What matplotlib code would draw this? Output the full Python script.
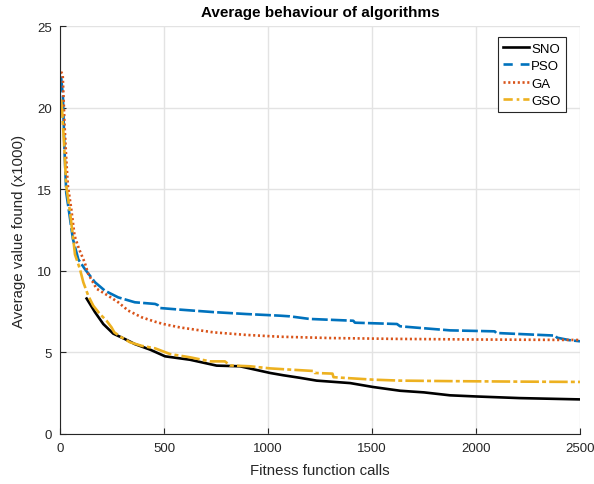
import matplotlib
matplotlib.use("Agg")
import matplotlib.pyplot as plt
from matplotlib.lines import Line2D

plt.rcParams['font.family'] = ['Liberation Sans', 'DejaVu Sans']

# Data
sno_x = [128, 168, 208, 256, 312, 360, 433, 505, 625, 753, 865, 1010, 1073, 1150,
         1234, 1395, 1505, 1635, 1750, 1875, 2000, 2210, 2500]
sno_y = [8.3, 7.47, 6.74, 6.15, 5.82, 5.51, 5.17, 4.76, 4.55, 4.19, 4.15, 3.74, 3.6, 3.45,
         3.27, 3.12, 2.88, 2.65, 2.55, 2.37, 2.3, 2.2, 2.12]

pso_x = [5, 14, 22, 30, 46, 62, 88, 120, 168, 216, 280, 360, 457, 470, 480, 577, 737, 897,
         1058, 1105, 1200, 1410, 1418, 1620, 1635, 1730, 1875, 2090, 2097, 2380, 2390, 2450, 2500]
pso_y = [21.9, 20.7, 17.3, 14.8, 13.4, 11.95, 10.7, 10.1, 9.3, 8.78, 8.37, 8.07, 7.97, 7.9, 7.72,
         7.62, 7.47, 7.35, 7.25, 7.21, 7.05, 6.94, 6.82, 6.74, 6.6, 6.5, 6.35, 6.29, 6.19, 6.03,
         5.9, 5.75, 5.68]

ga_x = [5, 13, 22, 30, 38, 54, 70, 87, 96, 119, 136, 176, 232, 280, 328, 393, 457, 497, 577,
        737, 897, 1058, 1300, 1600, 2000, 2500]
ga_y = [22.2, 22.0, 18.9, 16.85, 15.2, 13.8, 12.15, 11.5, 11.2, 10.5, 9.8, 8.9, 8.47, 8.07,
        7.56, 7.15, 6.88, 6.74, 6.53, 6.23, 6.07, 5.96, 5.88, 5.83, 5.79, 5.76]

gso_x = [5, 10, 19, 30, 46, 62, 72, 96, 112, 136, 160, 192, 224, 248, 261, 296, 337, 393,
         457, 529, 625, 721, 793, 817, 913, 1010, 1100, 1220, 1225, 1310, 1315, 1505, 1635,
         1875, 2200, 2500]
gso_y = [20.5, 19.9, 17.9, 15.2, 13.8, 12.15, 11.0, 10.1, 9.3, 8.47, 7.86, 7.35, 6.94, 6.53,
         6.23, 5.92, 5.62, 5.4, 5.25, 4.9, 4.7, 4.45, 4.45, 4.2, 4.15, 4.02, 3.95, 3.86, 3.74,
         3.7, 3.48, 3.33, 3.27, 3.24, 3.21, 3.19]

labels = ['SNO', 'PSO', 'GA', 'GSO']
colors = ['#000000', '#0072BD', '#D95319', '#EDB120']
xticks = [0, 500, 1000, 1500, 2000, 2500]
yticks = [0, 5, 10, 15, 20, 25]

fig = plt.figure(figsize=(5.94, 4.85), dpi=100)
ax = fig.add_axes([60/594, 50/485, 520/594, 408/485])

lw = 1.9
ax.plot(sno_x, sno_y, color=colors[0], lw=lw, ls='-')
ax.plot(pso_x, pso_y, color=colors[1], lw=lw, ls=(0, (6, 1.2)))
ax.plot(ga_x, ga_y, color=colors[2], lw=lw, ls=(0, (0.8, 1.0)))
ax.plot(gso_x, gso_y, color=colors[3], lw=lw, ls=(0, (7, 1.2, 1.5, 1.2)))

handles = [
    Line2D([], [], color=colors[0], lw=lw, ls='-'),
    Line2D([], [], color=colors[1], lw=lw, ls=(0, (3.5, 3))),
    Line2D([], [], color=colors[2], lw=lw, ls=(0, (0.8, 1.0))),
    Line2D([], [], color=colors[3], lw=lw, ls=(0, (3.5, 1.5, 1, 1.5))),
]

ax.set_xlim(0, 2500)
ax.set_ylim(0, 25)
ax.set_xticks(xticks)
ax.set_yticks(yticks)
ax.grid(True, color='#e3e3e3', lw=1.0)
ax.set_axisbelow(True)
for s in ['top', 'right']:
    ax.spines[s].set_visible(False)
for s in ['left', 'bottom']:
    ax.spines[s].set_color('#262626')
    ax.spines[s].set_linewidth(0.8)
ax.tick_params(direction='in', length=4, width=0.8, colors='#262626', labelsize=9.5,
               top=False, right=False, pad=6)

ax.set_title('Average behaviour of algorithms', fontsize=11, fontweight='bold', pad=7)
ax.set_xlabel('Fitness function calls', fontsize=10.8, color='#262626', labelpad=6)
ax.set_ylabel('Average value found (x1000)', fontsize=10.8, color='#262626', labelpad=8)

leg = ax.legend(handles, labels, loc='upper right', bbox_to_anchor=(0.973, 0.973),
                borderaxespad=0, fontsize=9.5, handlelength=2.0, handletextpad=0.15,
                labelspacing=0.4, borderpad=0.4, fancybox=False, framealpha=1,
                edgecolor='#262626')
leg.get_frame().set_linewidth(0.8)

fig.savefig('out.png', dpi=100)
